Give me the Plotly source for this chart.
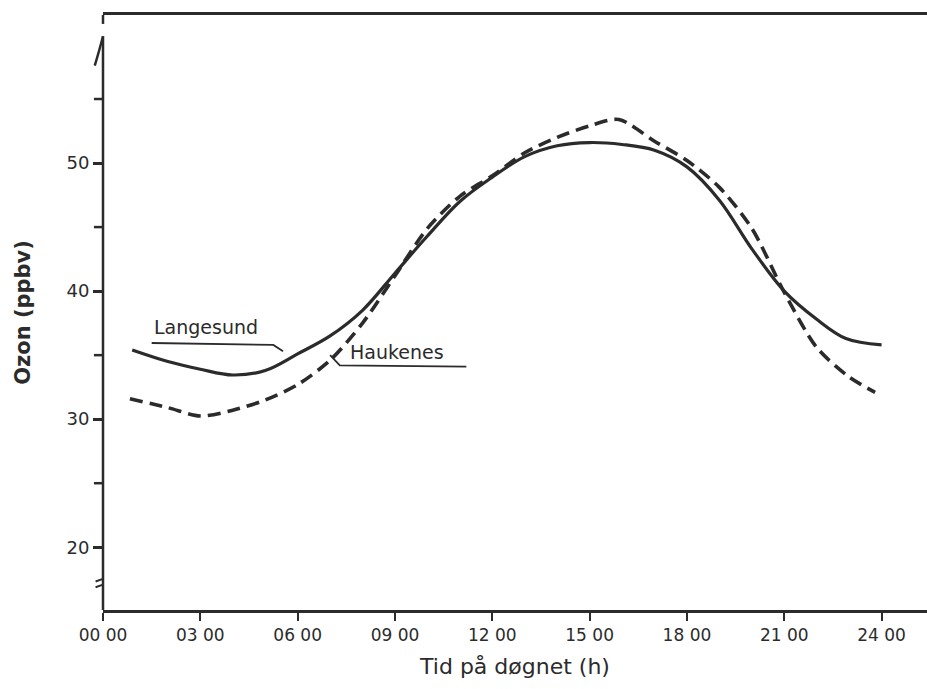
import plotly.graph_objects as go

# Diurnal ozone cycle, hour of day vs ozone (ppbv)
langesund_hour = [0.9, 2, 3, 4, 5, 6, 7, 8, 9, 10, 11, 12, 13, 14, 15, 16, 17, 18, 19, 20,
                  21, 22, 22.9, 24]
langesund_ozone = [35.4, 34.5, 33.9, 33.45, 33.8, 35.1, 36.5, 38.5, 41.4, 44.3, 47.0, 48.9,
                   50.5, 51.35, 51.6, 51.45, 51.0, 49.7, 47.1, 43.3, 40.0, 37.8, 36.3, 35.8]

haukenes_hour = [0.83, 2, 3, 4, 5, 6, 7, 8, 9, 10, 11, 12, 13, 14, 15, 15.9, 17, 18, 19, 20,
                 21, 22, 23, 23.8]
haukenes_ozone = [31.6, 30.9, 30.25, 30.7, 31.5, 32.7, 34.6, 37.5, 41.2, 44.9, 47.4, 49.0,
                  50.8, 52.0, 52.9, 53.4, 51.7, 50.2, 48.1, 44.9, 39.9, 35.6, 33.3, 32.1]

x_ticks = [0, 3, 6, 9, 12, 15, 18, 21, 24]
x_tick_labels = ["00 00", "03 00", "06 00", "09 00", "12 00", "15 00", "18 00", "21 00", "24 00"]
y_ticks = [20, 30, 40, 50]
y_minor = [25, 35, 45, 55]

INK = "#2b2b2b"
FONT = "DejaVu Sans"

X_RANGE = [0, 25.4]
Y_RANGE = [15.1, 61.56]

fig = go.Figure()

fig.add_trace(go.Scatter(
    x=langesund_hour, y=langesund_ozone, mode="lines", name="Langesund",
    line=dict(color=INK, width=3.2, shape="spline", smoothing=1.0),
))
fig.add_trace(go.Scatter(
    x=haukenes_hour, y=haukenes_ozone, mode="lines", name="Haukenes",
    line=dict(color=INK, width=3.6, dash="13px,7px", shape="spline", smoothing=0.8),
))

# Left axis line (starts just above the 55 tick) with its small hook at the top
fig.add_shape(type="line", xref="paper", yref="y", x0=0, x1=0, y0=Y_RANGE[0], y1=59.9,
              line=dict(color=INK, width=2.5))
fig.add_shape(type="path", xref="paper", yref="y",
              path="M 0,59.9 Q -0.004,58.9 -0.010,57.6",
              line=dict(color=INK, width=2.5))
# Small corner at the top-left of the frame
fig.add_shape(type="line", xref="paper", yref="paper", x0=0, x1=0, y0=1, y1=0.985,
              line=dict(color=INK, width=2.5))
# Axis-break mark near the bottom of the value axis
for yb in (17.0, 17.45):
    fig.add_shape(type="line", xref="paper", yref="y", x0=-0.009, x1=0.0,
                  y0=yb - 0.12, y1=yb + 0.08, line=dict(color=INK, width=2))

# Minor ticks on the value axis
for v in y_minor:
    fig.add_shape(type="line", xref="paper", yref="y", x0=-0.011, x1=0, y0=v, y1=v,
                  line=dict(color=INK, width=2.5))

# Series labels with their leader lines
fig.add_annotation(x=1.5, y=36.2, xref="x", yref="y", text="Langesund", showarrow=False,
                   xanchor="left", yanchor="bottom", font=dict(family=FONT, size=19, color=INK))
fig.add_shape(type="path", xref="x", yref="y",
              path="M 1.5,35.95 L 5.25,35.8 L 5.55,35.3",
              line=dict(color=INK, width=1.8))
fig.add_annotation(x=7.55, y=34.25, xref="x", yref="y", text="Haukenes", showarrow=False,
                   xanchor="left", yanchor="bottom", font=dict(family=FONT, size=19, color=INK))
fig.add_shape(type="path", xref="x", yref="y",
              path="M 7.0,35.0 L 7.3,34.2 L 11.2,34.1",
              line=dict(color=INK, width=1.8))

fig.update_layout(
    width=927, height=689,
    margin=dict(l=103, r=0, t=15, b=79),
    paper_bgcolor="white", plot_bgcolor="white",
    showlegend=False,
    font=dict(family=FONT, color=INK),
    xaxis=dict(
        range=X_RANGE, tickmode="array", tickvals=x_ticks, ticktext=x_tick_labels,
        ticks="outside", ticklen=8, tickwidth=2, tickcolor=INK,
        showline=True, linecolor=INK, linewidth=2.5, mirror=True,
        showgrid=False, zeroline=False,
        tickfont=dict(family=FONT, size=17, color=INK),
        title=dict(text="Tid på døgnet (h)", font=dict(family=FONT, size=22, color=INK),
                   standoff=15),
    ),
    yaxis=dict(
        range=Y_RANGE, tickmode="array", tickvals=y_ticks,
        ticks="outside", ticklen=9, tickwidth=2.5, tickcolor=INK,
        showline=False, showgrid=False, zeroline=False,
        tickfont=dict(family=FONT, size=18, color=INK),
        title=dict(text="<b>Ozon (ppbv)</b>", font=dict(family=FONT, size=21, color=INK),
                   standoff=30),
    ),
)

fig.write_html("out.html")
